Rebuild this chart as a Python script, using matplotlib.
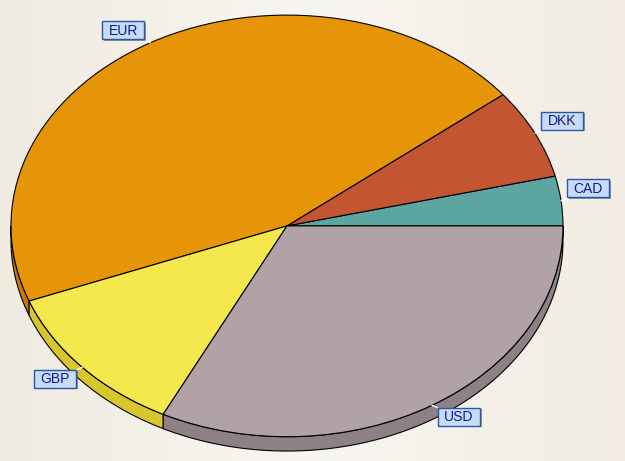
import numpy as np
import matplotlib
matplotlib.use("Agg")
import matplotlib.pyplot as plt
from matplotlib.path import Path
import matplotlib.patheffects as pe
from matplotlib.colors import LinearSegmentedColormap

# ---- data ----
labels = ["CAD", "DKK", "EUR", "GBP", "USD"]
values = [3.8, 6.9, 45.1, 11.8, 32.4]
top_colors = ["#5DA5A0", "#C45533", "#E69509", "#F5E84C", "#B0A2A6"]
side_colors = ["#4A8580", "#9E4428", "#C97808", "#D8C72C", "#8E8085"]

W, H = 625, 461
fig = plt.figure(figsize=(W / 100, H / 100), dpi=100)

# background gradient
bg = fig.add_axes([0, 0, 1, 1])
cmap = LinearSegmentedColormap.from_list("bg", ["#F0EBE1", "#F8F6F1", "#F2ECE2"])
grad = np.linspace(0, 1, 256).reshape(1, -1)
bg.imshow(grad, cmap=cmap, aspect="auto", extent=[0, 1, 0, 1])
bg.set_axis_off()

ax = fig.add_axes([0, 0, 1, 1])
ax.pie(values, colors=top_colors, startangle=0, counterclock=True,
       wedgeprops=dict(edgecolor="black", linewidth=0.8, zorder=2))
ax.set_aspect("auto")
ax.set_position([0, 0, 1, 1])
# map unit circle to ellipse centre (287,226), radii 276 x 210.8 px
cx, cy, rx, ry = 287.0, 225.9, 276.0, 210.8
ax.set_xlim(-cx / rx, (W - cx) / rx)
ax.set_ylim((cy - H) / ry, cy / ry)

# pie thickness (side walls) for the lower half
depth = 0.068
total = float(np.sum(values))
bounds = np.concatenate([[0.0], np.cumsum(values) / total * 360.0])
for i in range(len(values)):
    lo = max(bounds[i], 180.0)
    hi = min(bounds[i + 1], 360.0)
    if lo < hi:
        t = np.radians(np.linspace(lo, hi, 200))
        xs = np.concatenate([np.cos(t), np.cos(t)[::-1]])
        ys = np.concatenate([np.sin(t), (np.sin(t) - depth)[::-1]])
        ax.fill(xs, ys, facecolor=side_colors[i], edgecolor="black",
                linewidth=0.8, zorder=1)


def box_style(x0, y0, width, height, mutation_size):
    w, h = 42.0, 18.0
    xc = x0 + width / 2
    yc = y0 + height / 2 + 0.5
    xa, xb = xc - w / 2, xc + w / 2
    ya, yb = yc - h / 2, yc + h / 2
    return Path([(xa, ya), (xb, ya), (xb, yb), (xa, yb), (xa, ya)], closed=True)


for i, lab in enumerate(labels):
    mid = np.radians((bounds[i] + bounds[i + 1]) / 2)
    xr, yr = np.cos(mid), np.sin(mid)
    sx = 1 if xr >= 0 else -1
    sy = 1 if yr >= 0 else -1
    ann = ax.annotate(
        lab, xy=(xr, yr), xytext=(sx * 27, sy * 12),
        textcoords="offset pixels", ha="center", va="center",
        fontsize=10, family="Liberation Sans", color="#16168C", zorder=5,
        bbox=dict(boxstyle=box_style, facecolor="#C6DDF8",
                  edgecolor="#2A55A8", linewidth=1.0),
        arrowprops=dict(arrowstyle="-", color="white", lw=1.0,
                        shrinkA=0, shrinkB=0),
    )
    ann.get_bbox_patch().set_path_effects([
        pe.SimplePatchShadow(offset=(1.2, -1.2), shadow_rgbFace=(0.35, 0.35, 0.35), alpha=0.6),
        pe.Normal(),
    ])

fig.savefig("out.png", dpi=100)
